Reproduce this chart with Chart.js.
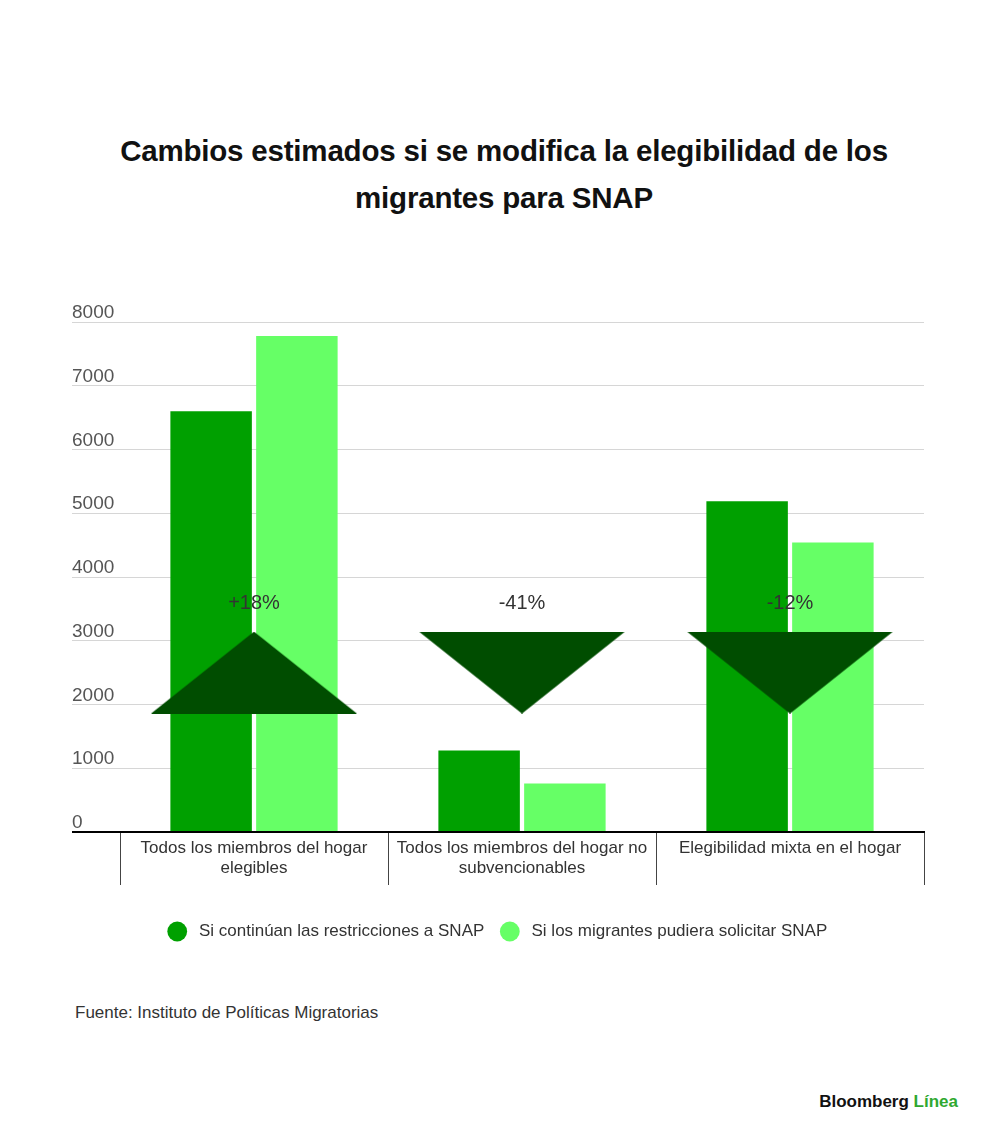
<!DOCTYPE html>
<html lang="es">
<head>
<meta charset="utf-8">
<title>Cambios estimados si se modifica la elegibilidad de los migrantes para SNAP</title>
<script src="https://cdn.jsdelivr.net/npm/chart.js@4.4.1/dist/chart.umd.min.js"></script>
<style>
  html, body { margin: 0; padding: 0; background: #fff; }
  body { width: 1000px; height: 1145px; position: relative; overflow: hidden; font-family: "Liberation Sans", Arial, sans-serif; }
  .title { position: absolute; left: 4px; top: 127px; width: 1000px; text-align: center; font-weight: bold; font-size: 29.5px; line-height: 47px; color: #111; letter-spacing: -0.2px; }
  .chart-box { position: absolute; left: 0; top: 290px; width: 1000px; height: 660px; }
  .source { position: absolute; left: 75px; top: 1003px; font-size: 17px; line-height: 20px; color: #333; }
  .brand { position: absolute; right: 42px; top: 1092px; font-size: 17px; line-height: 20px; font-weight: bold; color: #111; }
  .brand span { color: #2fa830; }
</style>
</head>
<body>
<div class="title">Cambios estimados si se modifica la elegibilidad de los<br>migrantes para SNAP</div>
<div class="chart-box"><canvas id="chart"></canvas></div>
<div class="source">Fuente: Instituto de Políticas Migratorias</div>
<div class="brand">Bloomberg <span>Línea</span></div>
<script>
// Categories (multi-line tick labels)
const categories = [
    ['Todos los miembros del hogar', 'elegibles'],
    ['Todos los miembros del hogar no', 'subvencionables'],
    ['Elegibilidad mixta en el hogar']
];

// Series values
const seriesNames = ['Si continúan las restricciones a SNAP', 'Si los migrantes pudiera solicitar SNAP'];
const restrictedValues = [6600, 1280, 5190];
const eligibleValues = [7780, 760, 4540];

// Change markers: level of the arrow centre and its label
const changeLevel = [2500, 2500, 2500];
const changeUp = [true, false, false];
const changeLabels = ['+18%', '-41%', '-12%'];

// Y axis ticks
const yMin = 0;
const yMax = 8000;
const yStep = 1000;

const DARK = '#00a000';
const LIGHT = '#66ff66';
const ARROW = '#004d00';

function makeTriangle(up) {
    const c = document.createElement('canvas');
    c.width = 206;
    c.height = 82;
    const g = c.getContext('2d');
    g.fillStyle = ARROW;
    g.beginPath();
    if (up) {
        g.moveTo(0, 82); g.lineTo(103, 0); g.lineTo(206, 82);
    } else {
        g.moveTo(0, 0); g.lineTo(206, 0); g.lineTo(103, 82);
    }
    g.closePath();
    g.fill();
    return c;
}

const upArrow = makeTriangle(true);
const downArrow = makeTriangle(false);

// Draws the percentage text above each arrow
const changeLabelPlugin = {
    id: 'changeLabels',
    afterDatasetsDraw(chart) {
        const meta = chart.getDatasetMeta(2);
        const ctx = chart.ctx;
        ctx.save();
        ctx.font = '20px "Liberation Sans", Arial, sans-serif';
        ctx.fillStyle = '#333';
        ctx.textAlign = 'center';
        ctx.textBaseline = 'middle';
        meta.data.forEach(function(pt, i) {
            ctx.fillText(changeLabels[i], pt.x, pt.y - 69);
        });
        ctx.restore();
    }
};

const font = '"Liberation Sans", Arial, sans-serif';

new Chart(document.getElementById('chart'), {
    type: 'bar',
    data: {
        labels: categories,
        datasets: [{
            label: seriesNames[0],
            data: restrictedValues,
            backgroundColor: DARK,
            categoryPercentage: 0.64,
            barPercentage: 0.95,
            order: 2
        }, {
            label: seriesNames[1],
            data: eligibleValues,
            backgroundColor: LIGHT,
            categoryPercentage: 0.64,
            barPercentage: 0.95,
            order: 2
        }, {
            type: 'line',
            label: 'cambio',
            data: changeLevel,
            showLine: false,
            pointStyle: changeUp.map(function(u) { return u ? upArrow : downArrow; }),
            pointRadius: 5,
            order: 0
        }]
    },
    options: {
        responsive: true,
        maintainAspectRatio: false,
        animation: false,
        events: [],
        layout: {
            padding: { left: 72, right: 76, top: 32, bottom: 0 }
        },
        plugins: {
            tooltip: { enabled: false },
            legend: {
                position: 'bottom',
                labels: {
                    usePointStyle: true,
                    pointStyle: 'circle',
                    boxHeight: 14,
                    boxWidth: 17,
                    padding: 17,
                    color: '#333',
                    font: { family: font, size: 17 },
                    filter: function(item) { return item.datasetIndex < 2; },
                    generateLabels: function(chart) {
                        const items = Chart.defaults.plugins.legend.labels.generateLabels(chart);
                        items.forEach(function(item) { item.text = ' ' + item.text; });
                        return items;
                    }
                }
            }
        },
        scales: {
            x: {
                grid: {
                    offset: true,
                    drawOnChartArea: false,
                    drawTicks: true,
                    tickLength: 53,
                    color: '#444',
                    lineWidth: 1
                },
                border: { display: true, color: '#000', width: 2 },
                ticks: {
                    padding: -47,
                    maxRotation: 0,
                    autoSkip: false,
                    color: '#333',
                    font: { family: font, size: 17, lineHeight: 1.2 }
                },
                afterFit: function(scale) { scale.height = 74; }
            },
            y: {
                min: yMin,
                max: yMax,
                border: { display: false },
                grid: {
                    tickLength: 48,
                    color: function(c) { return c.tick && c.tick.value === 0 ? '#000' : '#d6d6d6'; },
                    lineWidth: function(c) { return c.tick && c.tick.value === 0 ? 2 : 1; }
                },
                ticks: {
                    stepSize: yStep,
                    crossAlign: 'far',
                    labelOffset: -9,
                    color: '#555',
                    font: { family: font, size: 19 },
                    callback: function(v) { return String(v); }
                },
                afterFit: function(scale) { scale.width = 48; }
            }
        }
    },
    plugins: [changeLabelPlugin]
});
</script>
</body>
</html>
